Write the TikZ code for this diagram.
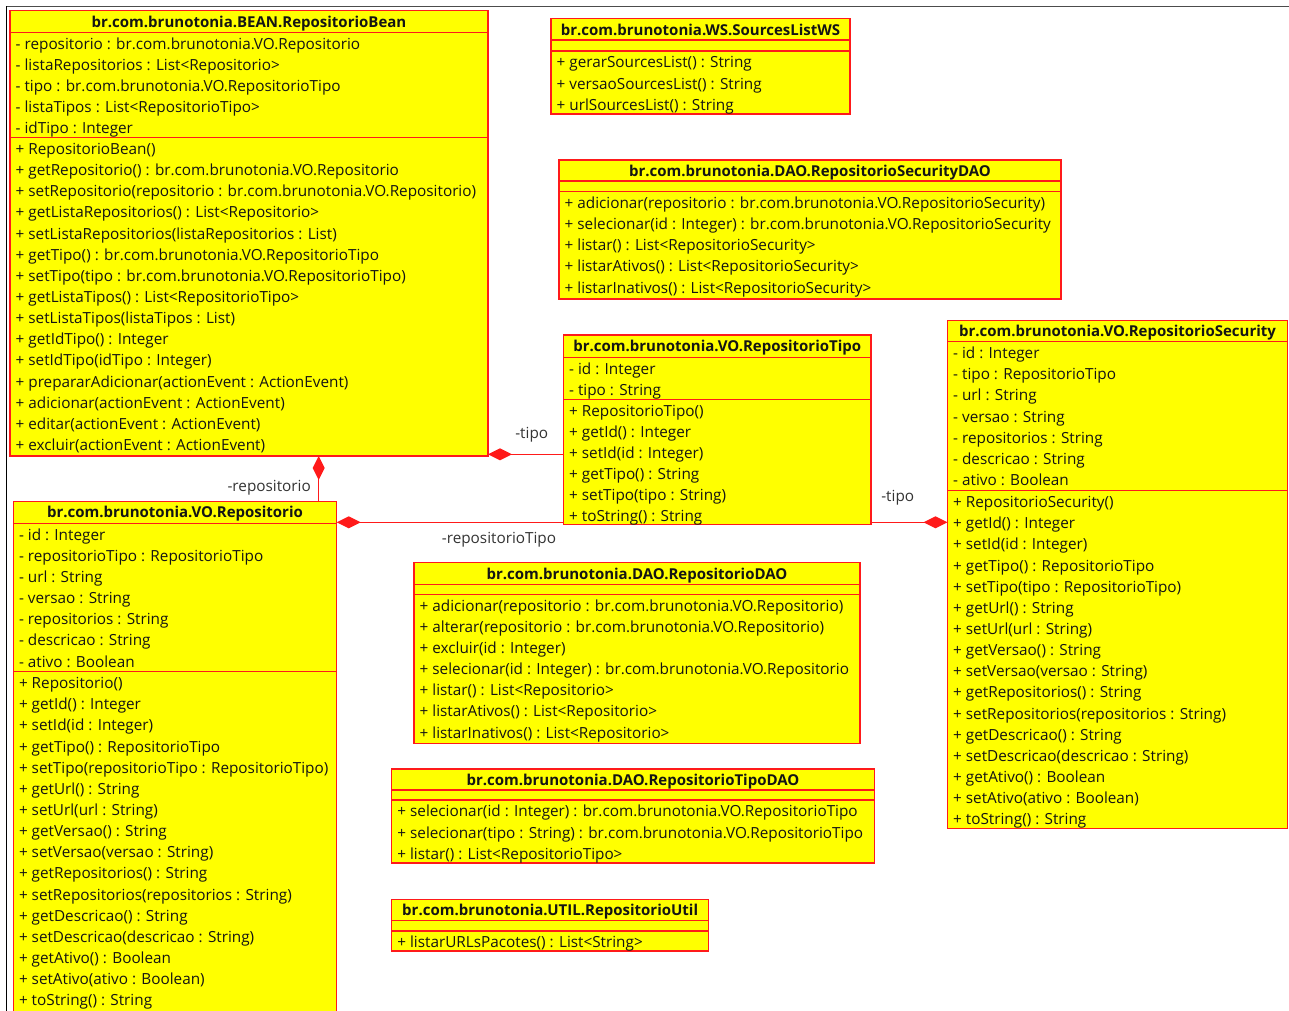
\documentclass[tikz,border=0pt]{standalone}
\usepackage{fontspec}
\setmainfont{Open Sans}
\usetikzlibrary{arrows.meta,calc}

\definecolor{umlyellow}{HTML}{FFFF00}
\definecolor{umlred}{HTML}{FF1A1A}
\definecolor{umltext}{HTML}{141414}
\definecolor{rolegray}{HTML}{333333}

\tikzset{
  cls/.style={draw=umlred, fill=umlyellow, line width=1.5pt, inner sep=0pt, outer sep=0pt, anchor=north west},
  sepline/.style={draw=umlred, line width=1.5pt},
  ttl/.style={font=\bfseries\fontsize{15}{16}\selectfont, text=umltext, inner sep=0pt, anchor=base},
  mem/.style={font=\fontsize{15.3}{16}\selectfont, text=umltext, inner sep=0pt, anchor=base west},
  role/.style={font=\fontsize{15.3}{16}\selectfont, text=rolegray, inner sep=0pt},
  comp/.style={draw=umlred, line width=1.4pt},
  dia/.tip={Diamond[length=24pt, width=12pt, fill=umlred, color=umlred]},
}

% box with top-left (#2,#3) and bottom-right (#4,#5)
\newcommand\umlbox[5]{%
  \node[cls, minimum width={#4-#2}, minimum height={#5-#3}] (#1) at (#2,#3) {};}
% horizontal divider of a box
\newcommand\umlsep[2]{\draw[sepline] (#1.west |- 0,#2) -- (#1.east |- 0,#2);}
% class name centred in the header
\newcommand\umltitle[4]{\node[ttl] (#1-t) at ({#2},{#3+16.6}) {#4};}
% one line per member, starting below the section top #3
\newcommand\umlmembers[4]{%
  \foreach \entry [count=\i] in {#4}
    \node[mem] (#1\i) at ({#2+5.5},{#3+16.9+21.15*(\i-1)}) {\entry};}

\begin{document}
\begin{tikzpicture}[x=1pt, y=-1pt]
\useasboundingbox (0,0) rectangle (1289,1010);

% window frame
\draw[black!70, line width=1.6pt] (6,6.5) -- (1289,6.5);
\draw[black, line width=1.2pt] (6.5,6) -- (6.5,1012);

% ---------- RepositorioBean ----------
\umlbox{bean}{10}{10.5}{488}{456}
\umlsep{bean}{32.3}
\umlsep{bean}{137.5}
\umltitle{bean}{249}{10.5}{br.com.brunotonia.BEAN.RepositorioBean}
\umlmembers{bean-a}{10}{32.3}{- repositorio : br.com.brunotonia.VO.Repositorio,
  - listaRepositorios : List<Repositorio>,
  - tipo : br.com.brunotonia.VO.RepositorioTipo,
  - listaTipos : List<RepositorioTipo>,
  - idTipo : Integer}
\umlmembers{bean-m}{10}{137.5}{+ RepositorioBean(),
  + getRepositorio() : br.com.brunotonia.VO.Repositorio,
  + setRepositorio(repositorio : br.com.brunotonia.VO.Repositorio),
  + getListaRepositorios() : List<Repositorio>,
  + setListaRepositorios(listaRepositorios : List),
  + getTipo() : br.com.brunotonia.VO.RepositorioTipo,
  + setTipo(tipo : br.com.brunotonia.VO.RepositorioTipo),
  + getListaTipos() : List<RepositorioTipo>,
  + setListaTipos(listaTipos : List),
  + getIdTipo() : Integer,
  + setIdTipo(idTipo : Integer),
  + prepararAdicionar(actionEvent : ActionEvent),
  + adicionar(actionEvent : ActionEvent),
  + editar(actionEvent : ActionEvent),
  + excluir(actionEvent : ActionEvent)}

% ---------- SourcesListWS ----------
\umlbox{ws}{551}{18.5}{850}{114}
\umlsep{ws}{40}
\umlsep{ws}{51}
\umltitle{ws}{700.5}{18.5}{br.com.brunotonia.WS.SourcesListWS}
\umlmembers{ws-m}{551}{51}{+ gerarSourcesList() : String,
  + versaoSourcesList() : String,
  + urlSourcesList() : String}

% ---------- RepositorioSecurityDAO ----------
\umlbox{sdao}{559}{160}{1061}{299}
\umlsep{sdao}{181}
\umlsep{sdao}{191.5}
\umltitle{sdao}{810}{160}{br.com.brunotonia.DAO.RepositorioSecurityDAO}
\umlmembers{sdao-m}{559}{191.5}{+ adicionar(repositorio : br.com.brunotonia.VO.RepositorioSecurity),
  + selecionar(id : Integer) : br.com.brunotonia.VO.RepositorioSecurity,
  + listar() : List<RepositorioSecurity>,
  + listarAtivos() : List<RepositorioSecurity>,
  + listarInativos() : List<RepositorioSecurity>}

% ---------- RepositorioTipo ----------
\umlbox{tipo}{563.5}{335}{871}{524.3}
\umlsep{tipo}{357.3}
\umlsep{tipo}{399.3}
\umltitle{tipo}{717.25}{335}{br.com.brunotonia.VO.RepositorioTipo}
\umlmembers{tipo-a}{563.5}{357.3}{- id : Integer,
  - tipo : String}
\umlmembers{tipo-m}{563.5}{399.3}{+ RepositorioTipo(),
  + getId() : Integer,
  + setId(id : Integer),
  + getTipo() : String,
  + setTipo(tipo : String),
  + toString() : String}

% ---------- RepositorioSecurity ----------
\umlbox{sec}{947.5}{320.7}{1287.5}{828.5}
\umlsep{sec}{341.7}
\umlsep{sec}{490.7}
\umltitle{sec}{1117.5}{320.2}{br.com.brunotonia.VO.RepositorioSecurity}
\umlmembers{sec-a}{947.5}{341.7}{- id : Integer,
  - tipo : RepositorioTipo,
  - url : String,
  - versao : String,
  - repositorios : String,
  - descricao : String,
  - ativo : Boolean}
\umlmembers{sec-m}{947.5}{490.7}{+ RepositorioSecurity(),
  + getId() : Integer,
  + setId(id : Integer),
  + getTipo() : RepositorioTipo,
  + setTipo(tipo : RepositorioTipo),
  + getUrl() : String,
  + setUrl(url : String),
  + getVersao() : String,
  + setVersao(versao : String),
  + getRepositorios() : String,
  + setRepositorios(repositorios : String),
  + getDescricao() : String,
  + setDescricao(descricao : String),
  + getAtivo() : Boolean,
  + setAtivo(ativo : Boolean),
  + toString() : String}

% ---------- Repositorio ----------
\umlbox{repo}{13.3}{501.3}{336.7}{1012}
\umlsep{repo}{523.3}
\umlsep{repo}{671.7}
\umltitle{repo}{175}{501.3}{br.com.brunotonia.VO.Repositorio}
\umlmembers{repo-a}{13.3}{523.3}{- id : Integer,
  - repositorioTipo : RepositorioTipo,
  - url : String,
  - versao : String,
  - repositorios : String,
  - descricao : String,
  - ativo : Boolean}
\umlmembers{repo-m}{13.3}{671.7}{+ Repositorio(),
  + getId() : Integer,
  + setId(id : Integer),
  + getTipo() : RepositorioTipo,
  + setTipo(repositorioTipo : RepositorioTipo),
  + getUrl() : String,
  + setUrl(url : String),
  + getVersao() : String,
  + setVersao(versao : String),
  + getRepositorios() : String,
  + setRepositorios(repositorios : String),
  + getDescricao() : String,
  + setDescricao(descricao : String),
  + getAtivo() : Boolean,
  + setAtivo(ativo : Boolean),
  + toString() : String}

% ---------- RepositorioDAO ----------
\umlbox{rdao}{414}{562.7}{860}{743.5}
\umlsep{rdao}{584.3}
\umlsep{rdao}{594.3}
\umltitle{rdao}{637}{562.7}{br.com.brunotonia.DAO.RepositorioDAO}
\umlmembers{rdao-m}{414}{594.3}{+ adicionar(repositorio : br.com.brunotonia.VO.Repositorio),
  + alterar(repositorio : br.com.brunotonia.VO.Repositorio),
  + excluir(id : Integer),
  + selecionar(id : Integer) : br.com.brunotonia.VO.Repositorio,
  + listar() : List<Repositorio>,
  + listarAtivos() : List<Repositorio>,
  + listarInativos() : List<Repositorio>}

% ---------- RepositorioTipoDAO ----------
\umlbox{tdao}{391.7}{769}{874.3}{863}
\umlsep{tdao}{789.8}
\umlsep{tdao}{800}
\umltitle{tdao}{633}{769}{br.com.brunotonia.DAO.RepositorioTipoDAO}
\umlmembers{tdao-m}{391.7}{800}{+ selecionar(id : Integer) : br.com.brunotonia.VO.RepositorioTipo,
  + selecionar(tipo : String) : br.com.brunotonia.VO.RepositorioTipo,
  + listar() : List<RepositorioTipo>}

% ---------- RepositorioUtil ----------
\umlbox{util}{391.7}{899.3}{708.7}{951}
\umlsep{util}{920.5}
\umlsep{util}{931}
\umltitle{util}{550.2}{899.3}{br.com.brunotonia.UTIL.RepositorioUtil}
\umlmembers{util-m}{391.7}{931}{+ listarURLsPacotes() : List<String>}

% ---------- associations (composition) ----------
\draw[comp, {dia}-] ([xshift=308.7pt]bean.south west) -- ([xshift=305.4pt]repo.north west);
\node[role, anchor=east] (r-repo) at (311,488) {-repositorio};

\draw[comp, {dia}-] ([yshift=1.7pt]bean.south east) coordinate (bt) -- (bt -| tipo.west);
\node[role] (r-tipo1) at (531.7,434.3) {-tipo};

\draw[comp, {dia}-] ([yshift=-21pt]repo.north east) coordinate (rt) -- (rt -| tipo.west);
\node[role] (r-rtipo) at (499,539.5) {-repositorioTipo};

\draw[comp, -{dia}] ([yshift=2pt]tipo.south east) coordinate (ts) -- (ts -| sec.west);
\node[role] (r-tipo2) at (897.7,497.3) {-tipo};

\end{tikzpicture}
\end{document}
